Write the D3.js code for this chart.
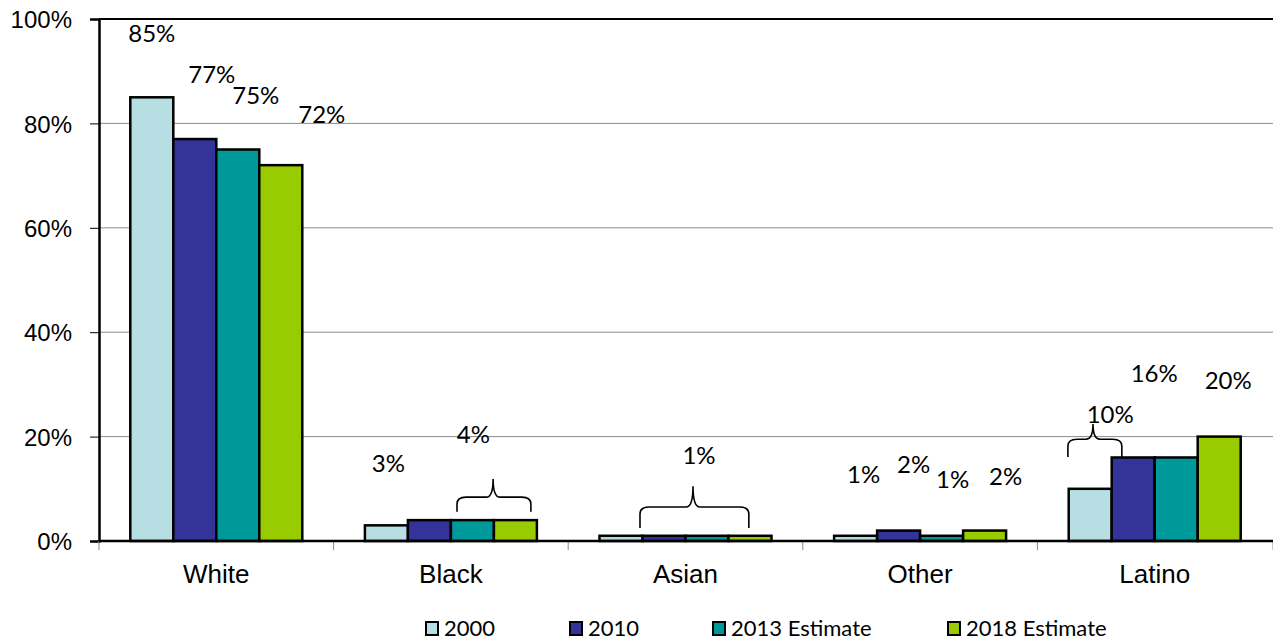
<!DOCTYPE html>
<html>
<head>
<meta charset="utf-8">
<script src="https://cdn.jsdelivr.net/npm/d3@7"></script>
<style>
  html, body { margin: 0; padding: 0; background: #fff; }
  svg { display: block; }
</style>
</head>
<body>
<svg id="chart" width="1273" height="641"></svg>
<script>
// Population share by race / ethnicity
const categories = ["White", "Black", "Asian", "Other", "Latino"];
const seriesNames = ["2000", "2010", "2013 Estimate", "2018 Estimate"];
const values2000 = [85, 3, 1, 1, 10];
const values2010 = [77, 4, 1, 2, 16];
const values2013 = [75, 4, 1, 1, 16];
const values2018 = [72, 4, 1, 2, 20];
const yTicks = [0, 20, 40, 60, 80, 100];

const seriesValues = [values2000, values2010, values2013, values2018];
const colors = ["#B7DFE3", "#333399", "#009999", "#99CC00"];

// Data-label nudges [dx, dy] from the top centre of each bar; null = label not shown
const labelNudges = [
  [[0, -55], [17, -56], [18, -46], [41, -42]],
  [[2, -53], null, [1, -77], null],
  [null, null, [-8, -72], null],
  [[8, -53], [15, -58], [11, -48], [21, -46]],
  [[20, -66], [21, -75], null, [9, -48]]
];

// Curly braces grouping bars: x as fraction of the category band, y in percent
const braces = [
  { cat: "Black",  x0: 0.526, xp: 0.680, x1: 0.841, bottom: 5.6,  mid: 8.4,  top: 11.9 },
  { cat: "Asian",  x0: 0.306, xp: 0.532, x1: 0.770, bottom: 2.5,  mid: 6.5,  top: 10.5 },
  { cat: "Latino", x0: 0.130, xp: 0.237, x1: 0.360, bottom: 16.1, mid: 19.5, top: 22.4 }
];

const svg = d3.select("#chart");
const plotLeft = 99, plotRight = 1272, plotTop = 19, plotBottom = 541;

const x0 = d3.scaleBand().domain(categories).range([plotLeft, plotRight]).padding(0);
const x1 = d3.scaleBand().domain(seriesNames).range([0, x0.bandwidth()])
  .paddingInner(0).paddingOuter(0.728);
const y = d3.scaleLinear().domain([0, 100]).range([plotBottom, plotTop]);

// Gridlines
svg.append("g")
  .selectAll("line")
  .data(yTicks.filter(t => t > 0 && t < 100))
  .join("line")
  .attr("x1", plotLeft).attr("x2", plotRight + 1)
  .attr("y1", d => y(d)).attr("y2", d => y(d))
  .attr("stroke", "#8c8c8c").attr("stroke-width", 1);

// Top border
svg.append("line")
  .attr("x1", plotLeft).attr("x2", plotRight + 1)
  .attr("y1", y(100)).attr("y2", y(100))
  .attr("stroke", "#000").attr("stroke-width", 2);

// Y axis
const yAxis = d3.axisLeft(y).tickValues(yTicks).tickFormat(d => d + "%").tickSize(9).tickPadding(18);
const gy = svg.append("g").attr("transform", `translate(${plotLeft},0)`).call(yAxis);
gy.select(".domain").attr("stroke", "#000").attr("stroke-width", 2.5);
gy.selectAll(".tick line").attr("stroke", "#000").attr("stroke-width", 1);
gy.selectAll(".tick text")
  .attr("font-family", "'Liberation Sans', Arial, sans-serif")
  .attr("font-size", 24).attr("fill", "#000").attr("dy", "0.36em");

// Category boundary ticks under the baseline
const boundaries = categories.map(c => x0(c)).concat([plotRight + 1]);
svg.append("g")
  .selectAll("line")
  .data(boundaries)
  .join("line")
  .attr("x1", d => d).attr("x2", d => d)
  .attr("y1", plotBottom).attr("y2", plotBottom + 9)
  .attr("stroke", "#8c8c8c").attr("stroke-width", 1);

// Category labels
svg.append("g")
  .selectAll("text")
  .data(categories)
  .join("text")
  .attr("x", d => x0(d) + x0.bandwidth() / 2)
  .attr("y", 583)
  .attr("text-anchor", "middle")
  .attr("font-family", "'Liberation Sans', Arial, sans-serif")
  .attr("font-size", 26)
  .attr("fill", "#000")
  .text(d => d);

// Bars
const barData = [];
categories.forEach((c, ci) => {
  seriesNames.forEach((s, si) => {
    barData.push({ cat: c, ci, series: s, si, value: seriesValues[si][ci] });
  });
});

svg.append("g")
  .selectAll("rect")
  .data(barData)
  .join("rect")
  .attr("x", d => x0(d.cat) + x1(d.series))
  .attr("y", d => y(d.value))
  .attr("width", x1.bandwidth())
  .attr("height", d => y(0) - y(d.value))
  .attr("fill", d => colors[d.si])
  .attr("stroke", "#000")
  .attr("stroke-width", 2.5);

// Baseline
svg.append("line")
  .attr("x1", plotLeft).attr("x2", plotRight + 1)
  .attr("y1", plotBottom).attr("y2", plotBottom)
  .attr("stroke", "#000").attr("stroke-width", 2.5);

// Data labels
svg.append("g")
  .selectAll("text")
  .data(barData.filter(d => labelNudges[d.ci][d.si]))
  .join("text")
  .attr("x", d => x0(d.cat) + x1(d.series) + x1.bandwidth() / 2 + labelNudges[d.ci][d.si][0])
  .attr("y", d => y(d.value) + labelNudges[d.ci][d.si][1])
  .attr("text-anchor", "middle")
  .attr("font-family", "Lato, 'Open Sans', sans-serif")
  .attr("font-size", 24)
  .attr("fill", "#000")
  .text(d => d.value + "%");

// Braces
function bracePath(b) {
  const bx = x0(b.cat), w = x0.bandwidth();
  const xa = bx + b.x0 * w, xp = bx + b.xp * w, xb = bx + b.x1 * w;
  const yb = y(b.bottom), ym = y(b.mid), yt = y(b.top);
  const r = 7;
  return `M${xa},${yb} L${xa},${ym + r} Q${xa},${ym} ${xa + r + 2},${ym}` +
    ` L${xp - r},${ym} Q${xp},${ym} ${xp},${yt}` +
    ` Q${xp},${ym} ${xp + r},${ym} L${xb - r - 2},${ym}` +
    ` Q${xb},${ym} ${xb},${ym + r} L${xb},${yb}`;
}
svg.append("g")
  .selectAll("path")
  .data(braces)
  .join("path")
  .attr("d", bracePath)
  .attr("fill", "none")
  .attr("stroke", "#000")
  .attr("stroke-width", 1.6);

// Legend
const legendX = [425, 569, 712, 947];
const legend = svg.append("g")
  .selectAll("g")
  .data(seriesNames)
  .join("g")
  .attr("transform", (d, i) => `translate(${legendX[i]},621)`);
legend.append("rect")
  .attr("x", 1).attr("y", 1)
  .attr("width", 12).attr("height", 13)
  .attr("fill", (d, i) => colors[i])
  .attr("stroke", "#000").attr("stroke-width", 2);
legend.append("text")
  .attr("x", 19).attr("y", 15)
  .attr("font-family", "Lato, 'Open Sans', sans-serif")
  .attr("font-size", 22)
  .attr("fill", "#000")
  .text(d => d);
</script>
</body>
</html>
